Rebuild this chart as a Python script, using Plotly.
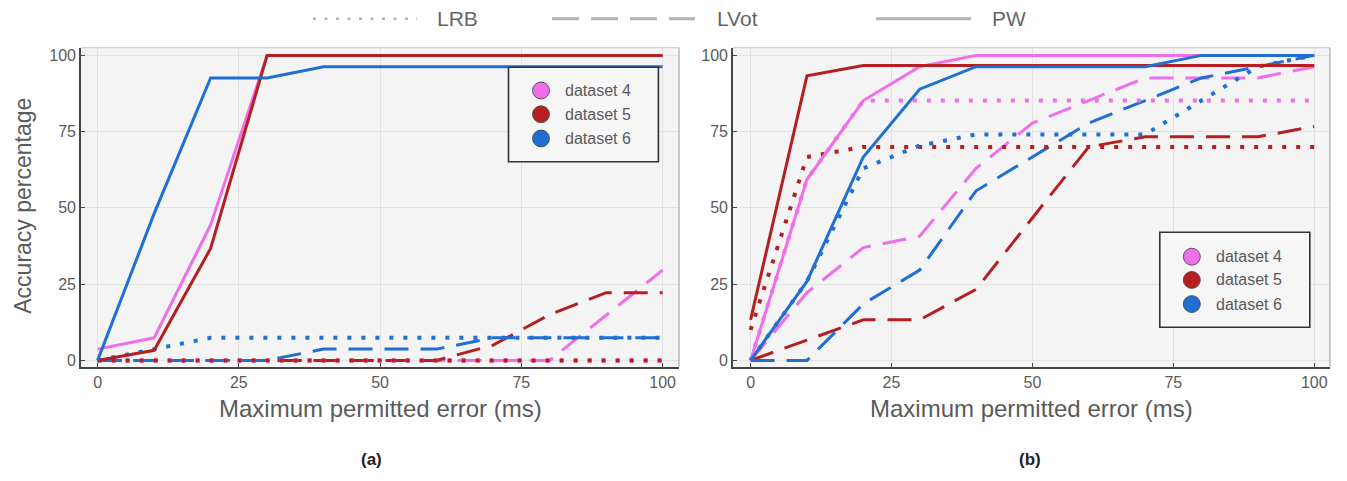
import plotly.graph_objects as go

# The page body has an 8px default margin; figure coordinates are offset accordingly.
OFF = 8
W, H = 1331, 465

# ---------------- data ----------------
x_ms = [0, 10, 20, 30, 40, 50, 60, 70, 80, 90, 100]
datasets = ["dataset 4", "dataset 5", "dataset 6"]
methods = ["LRB", "LVot", "PW"]
panel_labels = ["(a)", "(b)"]
tick_vals = [0, 25, 50, 75, 100]

# panel (a)
a_pw_d4 = [3.7, 7.4, 44.4, 100, 100, 100, 100, 100, 100, 100, 100]
a_pw_d5 = [0, 3.3, 36.7, 100, 100, 100, 100, 100, 100, 100, 100]
a_pw_d6 = [0, 48.1, 92.6, 92.6, 96.3, 96.3, 96.3, 96.3, 96.3, 96.3, 96.3]
a_lrb_d4 = [0, 0, 0, 0, 0, 0, 0, 0, 0, 0, 0]
a_lrb_d5 = [0, 0, 0, 0, 0, 0, 0, 0, 0, 0, 0]
a_lrb_d6 = [0, 3.7, 7.4, 7.4, 7.4, 7.4, 7.4, 7.4, 7.4, 7.4, 7.4]
a_lvot_d4 = [0, 0, 0, 0, 0, 0, 0, 0, 0, 14.8, 29.6]
a_lvot_d5 = [0, 0, 0, 0, 0, 0, 0, 5.0, 15.0, 22.2, 22.2]
a_lvot_d6 = [0, 0, 0, 0, 3.7, 3.7, 3.7, 7.4, 7.4, 7.4, 7.4]

# panel (b)
b_pw_d4 = [0, 59.3, 85.2, 96.3, 100, 100, 100, 100, 100, 100, 100]
b_pw_d5 = [13.3, 93.3, 96.7, 96.7, 96.7, 96.7, 96.7, 96.7, 96.7, 96.7, 96.7]
b_pw_d6 = [0, 25.9, 66.7, 88.9, 96.3, 96.3, 96.3, 96.3, 100, 100, 100]
b_lrb_d4 = [0, 59.3, 85.2, 85.2, 85.2, 85.2, 85.2, 85.2, 85.2, 85.2, 85.2]
b_lrb_d5 = [10.0, 66.7, 70, 70, 70, 70, 70, 70, 70, 70, 70]
b_lrb_d6 = [0, 25.9, 63.0, 70.4, 74.1, 74.1, 74.1, 74.1, 85.2, 96.3, 100]
b_lvot_d4 = [0, 22.2, 37.0, 40.7, 63.0, 77.8, 85.2, 92.6, 92.6, 92.6, 96.3]
b_lvot_d5 = [0, 6.7, 13.3, 13.3, 23.3, 46.7, 70, 73.3, 73.3, 73.3, 76.7]
b_lvot_d6 = [0, 0, 18.5, 29.6, 55.6, 66.7, 77.8, 85.2, 92.6, 96.3, 100]

panel_a = {
    "LRB": [a_lrb_d4, a_lrb_d5, a_lrb_d6],
    "LVot": [a_lvot_d4, a_lvot_d5, a_lvot_d6],
    "PW": [a_pw_d4, a_pw_d5, a_pw_d6],
}
panel_b = {
    "LRB": [b_lrb_d4, b_lrb_d5, b_lrb_d6],
    "LVot": [b_lvot_d4, b_lvot_d5, b_lvot_d6],
    "PW": [b_pw_d4, b_pw_d5, b_pw_d6],
}

# ---------------- styles ----------------
colors = ["#ee6fe9", "#b51f22", "#1f6fd4"]
dash_styles = {"LRB": "4px,10px", "LVot": "24px,12px", "PW": "solid"}
widths = {"LRB": 4, "LVot": 3, "PW": 3}
FONT = "Liberation Sans"
TXT = "#5a5a5a"


def px(x):
    return (x - OFF) / W


def py(y):
    return 1 - (y - OFF) / H


fig = go.Figure()

for p_idx, panel in enumerate([panel_a, panel_b]):
    xa = "x" if p_idx == 0 else "x2"
    ya = "y" if p_idx == 0 else "y2"
    for m in ["LVot", "LRB", "PW"]:
        for d_idx in range(3):
            fig.add_trace(go.Scatter(
                x=x_ms, y=panel[m][d_idx], mode="lines",
                line=dict(color=colors[d_idx], width=widths[m], dash=dash_styles[m]),
                name=f"{datasets[d_idx]} {m}", showlegend=False,
                xaxis=xa, yaxis=ya,
            ))

axis_common = dict(
    tickvals=tick_vals, ticks="inside", ticklen=4, tickwidth=1.3, tickcolor="#444",
    showline=True, linecolor="#444", linewidth=1.6,
    showgrid=True, gridcolor="#e2e2e2", gridwidth=1, zeroline=False,
    tickfont=dict(family=FONT, size=16, color=TXT),
)

ydom = [py(368), py(47)]
fig.update_layout(
    width=W, height=H,
    margin=dict(l=0, r=0, t=0, b=0),
    paper_bgcolor="white", plot_bgcolor="#f4f4f4",
    font=dict(family=FONT, color=TXT),
    showlegend=False,
    xaxis=dict(domain=[px(81), px(679)], range=[-2.94, 102.9], anchor="y", **axis_common),
    yaxis=dict(domain=ydom, range=[-2.06, 102.5], anchor="x", **axis_common),
    xaxis2=dict(domain=[px(733), px(1330)], range=[-3.12, 102.8], anchor="y2", **axis_common),
    yaxis2=dict(domain=ydom, range=[-2.06, 102.5], anchor="x2", **axis_common),
)

shapes = []
annotations = []

# light top/right frame lines
for xd, yd in [("x domain", "y domain"), ("x2 domain", "y2 domain")]:
    shapes.append(dict(type="line", xref=xd, yref=yd, x0=0, x1=1, y0=1, y1=1,
                       line=dict(color="#c4c4c4", width=1.2), layer="above"))
    shapes.append(dict(type="line", xref=xd, yref=yd, x0=1, x1=1, y0=0, y1=1,
                       line=dict(color="#a8a8a8", width=1.2), layer="above"))

# top legend (line styles)
ly = 17.7
top_items = [
    ("LRB", 313, 417, "3px,8.5px", 2.5, 437),
    ("LVot", 552, 695, "27px,12px", 3, 717),
    ("PW", 876, 971, "solid", 3, 992),
]
for name, x0, x1, dsh, lw, tx in top_items:
    shapes.append(dict(type="line", xref="paper", yref="paper",
                       x0=px(x0), x1=px(x1), y0=py(ly), y1=py(ly),
                       line=dict(color="#b3b3b3", width=lw, dash=dsh)))
    annotations.append(dict(text=name, xref="paper", yref="paper", x=px(tx - 2), y=py(ly),
                            xanchor="left", yanchor="middle", showarrow=False,
                            font=dict(family=FONT, size=21, color="#666")))

# in-plot dataset legends
legend_boxes = [
    (508.5, 658.4, 66.7, 161.7, 541, [90, 114, 138.3], 565),
    (1159.8, 1309.8, 232.7, 328.3, 1191.8, [257.3, 280.7, 305], 1215.6),
]
r = 8.5
for bx0, bx1, by0, by1, cx, cys, tx in legend_boxes:
    shapes.append(dict(type="rect", xref="paper", yref="paper",
                       x0=px(bx0), x1=px(bx1), y0=py(by1), y1=py(by0),
                       line=dict(color="#333", width=1.6), fillcolor="#f6f6f6", layer="above"))
    for d_idx, cy in enumerate(cys):
        shapes.append(dict(type="circle", xref="paper", yref="paper",
                           x0=px(cx - r), x1=px(cx + r), y0=py(cy + r), y1=py(cy - r),
                           line=dict(color="rgba(70,70,70,0.85)", width=1),
                           fillcolor=colors[d_idx], layer="above"))
        annotations.append(dict(text=datasets[d_idx], xref="paper", yref="paper",
                                x=px(tx - 2), y=py(cy), xanchor="left", yanchor="middle",
                                showarrow=False, font=dict(family=FONT, size=16, color=TXT)))

# axis titles
for cx in [380, 1031]:
    annotations.append(dict(text="Maximum permitted error (ms)", xref="paper", yref="paper",
                            x=px(cx), y=py(410), xanchor="center", yanchor="middle",
                            showarrow=False, font=dict(family=FONT, size=24, color=TXT)))
annotations.append(dict(text="Accuracy percentage", xref="paper", yref="paper",
                        x=px(23), y=py(206), xanchor="center", yanchor="middle", textangle=-90,
                        showarrow=False, font=dict(family=FONT, size=23, color=TXT)))

# panel labels
for lbl, cx in zip(panel_labels, [372, 1030]):
    annotations.append(dict(text=f"<b>{lbl}</b>", xref="paper", yref="paper",
                            x=px(cx), y=py(461), xanchor="center", yanchor="middle",
                            showarrow=False, font=dict(family=FONT, size=17, color="#222")))

fig.update_layout(shapes=shapes, annotations=annotations)
fig.write_html("out.html")
